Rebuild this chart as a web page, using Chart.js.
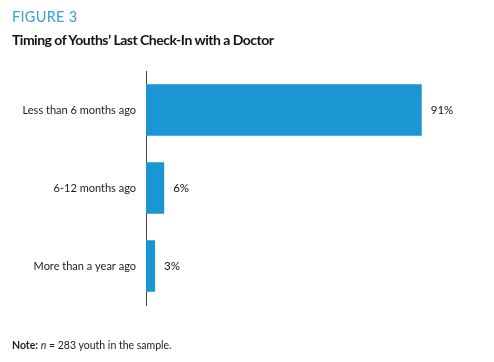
<!DOCTYPE html>
<html lang="en">
<head>
    <meta charset="UTF-8">
    <title>Figure 3</title>
    <script src="https://cdn.jsdelivr.net/npm/chart.js"></script>
    <style>
        body { margin: 0; background: #fff; font-family: Lato, sans-serif; }
        #wrap { position: relative; width: 494px; height: 362px; }
        canvas { position: absolute; left: 0; top: 0; }
        .fig { position: absolute; left: 12px; top: 8px; font-size: 14.5px; letter-spacing: 0.3px; color: #3a9fd9; }
        .title { position: absolute; left: 12px; top: 31px; font-size: 14px; font-weight: bold; color: #111; letter-spacing: -0.5px; }
        .note { position: absolute; left: 12px; top: 339px; font-size: 10.5px; color: #222; }
    </style>
</head>
<body>
<div id="wrap">
    <canvas id="chart" width="494" height="362"></canvas>
    <div class="fig">FIGURE 3</div>
    <div class="title">Timing of Youths’ Last Check-In with a Doctor</div>
    <div class="note"><b>Note:</b> <i>n</i> = 283 youth in the sample.</div>
</div>
<script>
    const categories = ['Less than 6 months ago', '6-12 months ago', 'More than a year ago'];
    const percents = [91, 6, 3];

    // draw the value labels to the right of each bar
    const valueLabels = {
        id: 'valueLabels',
        afterDatasetsDraw(chart) {
            const ctx = chart.ctx;
            ctx.save();
            ctx.font = '11.5px Lato';
            ctx.fillStyle = '#111';
            ctx.textBaseline = 'middle';
            chart.getDatasetMeta(0).data.forEach((bar, i) => {
                ctx.fillText(percents[i] + '%', bar.x + 9, bar.y);
            });
            ctx.restore();
        }
    };

    new Chart(document.getElementById('chart'), {
        type: 'bar',
        data: {
            labels: categories,
            datasets: [{
                data: percents,
                backgroundColor: '#1a96d3',
                categoryPercentage: 1,
                barPercentage: 0.66
            }]
        },
        options: {
            indexAxis: 'y',
            responsive: false,
            animation: false,
            layout: { padding: { top: 71, bottom: 57, left: 0, right: 45 } },
            plugins: { legend: { display: false }, tooltip: { enabled: false } },
            scales: {
                x: { display: false, min: 0, max: 100 },
                y: {
                    grid: { display: false, drawTicks: false },
                    border: { color: '#444', width: 1 },
                    ticks: { color: '#222', font: { family: 'Lato', size: 11 }, padding: 10 },
                    afterFit(scale) { scale.width = 146; }
                }
            }
        },
        plugins: [valueLabels]
    });
</script>
</body>
</html>
